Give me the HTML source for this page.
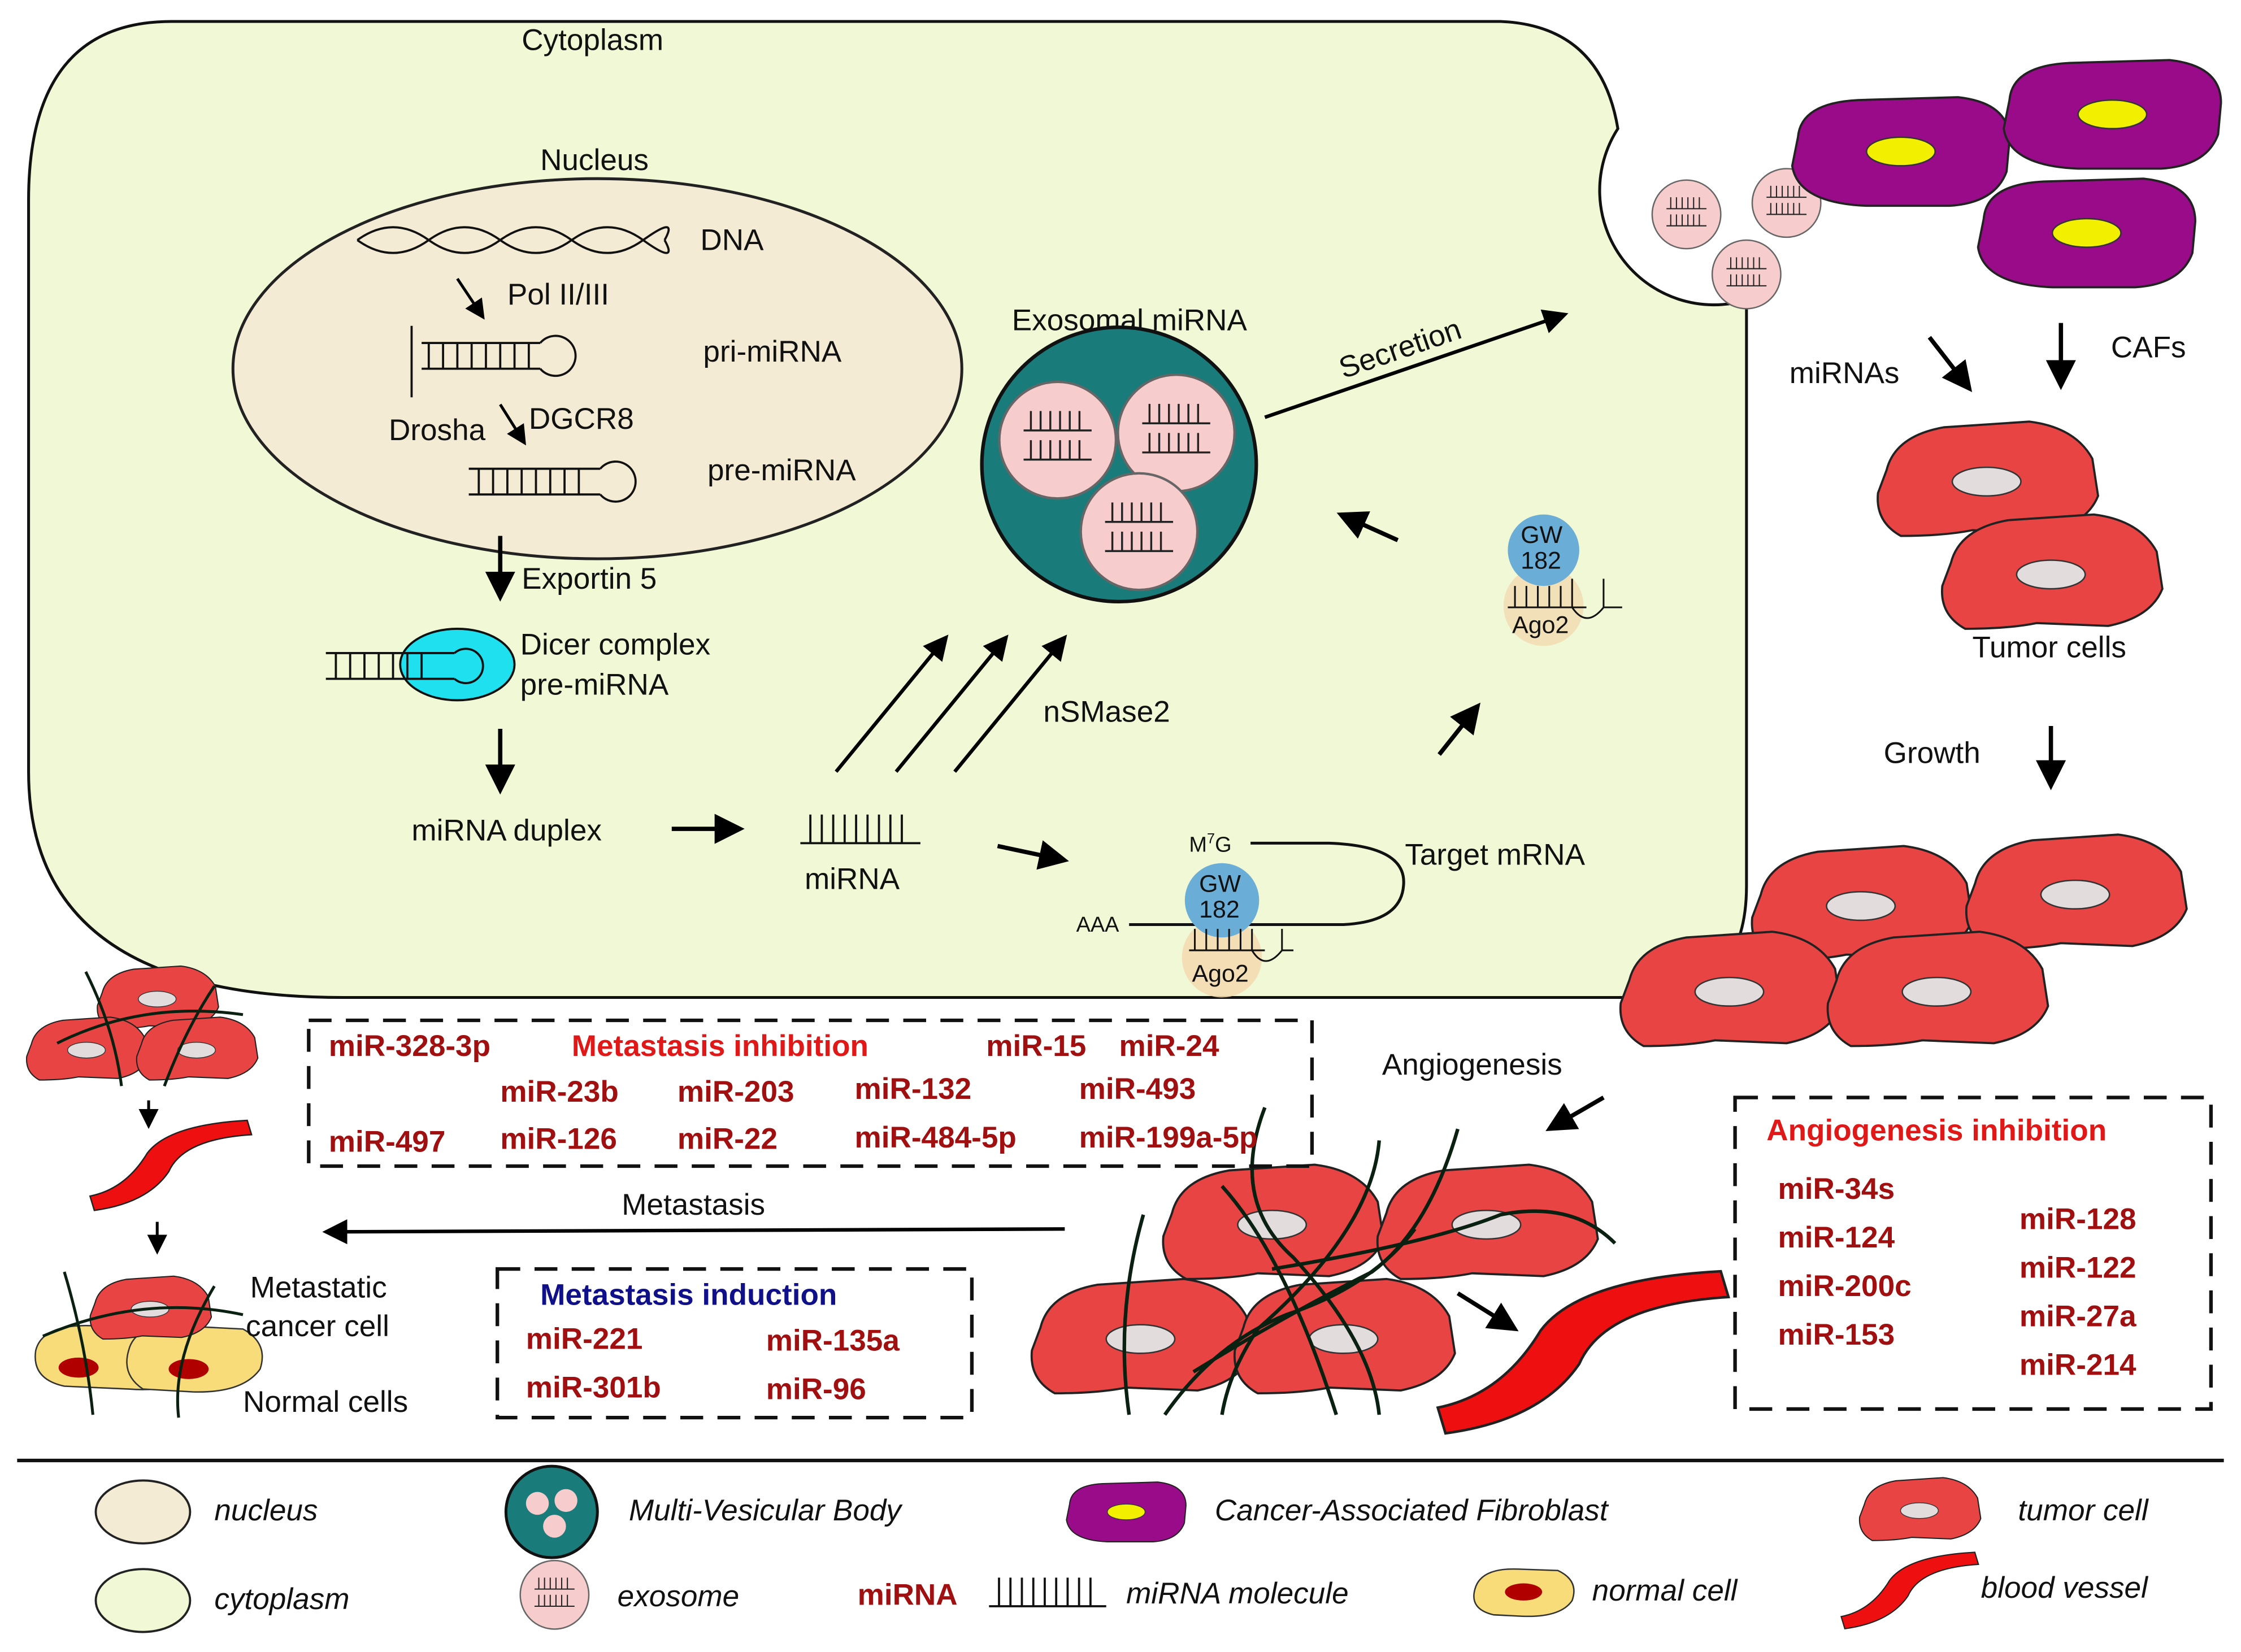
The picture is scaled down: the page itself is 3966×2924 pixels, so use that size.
<!DOCTYPE html>
<html><head><meta charset="utf-8"><style>
html,body{margin:0;padding:0;background:#fff}
svg{display:block}
text{font-family:"Liberation Sans",sans-serif}
.t{font-size:21px;fill:#111}
.r{font-size:21px;font-weight:bold;fill:#a01010}
.i{font-size:21px;font-style:italic;fill:#111}
</style></head><body>
<svg width="3966" height="2924" viewBox="0 0 1568 1156" xmlns="http://www.w3.org/2000/svg">
<defs>
<marker id="ah" markerWidth="8" markerHeight="8" refX="6" refY="4" orient="auto" markerUnits="strokeWidth"><path d="M0,0.5 L7,4 L0,7.5 Z" fill="#000"/></marker>
<g id="tc"><path d="M-70,-6 Q-64,-30 -30,-36 L30,-40 Q62,-36 74,-14 L78,12 Q70,32 40,38 L-10,36 Q-30,40 -60,40 Q-78,30 -76,10 Z" fill="#e84444" stroke="#222" stroke-width="1.5"/><ellipse cx="0" cy="2" rx="24" ry="10" fill="#e3dcdc" stroke="#333" stroke-width="1"/></g>
<g id="caf"><path d="M-72,-10 Q-70,-34 -30,-36 L40,-38 Q76,-34 76,-8 L74,14 Q66,36 34,38 L-24,38 Q-72,36 -76,10 Z" fill="#9a0b8a" stroke="#222" stroke-width="1.5"/><ellipse cx="0" cy="0" rx="24" ry="10" fill="#f3ef00" stroke="#333"/></g>
<g id="exo"><circle r="24" fill="#f6cccc" stroke="#666" stroke-width="1"/><path d="M-14,-4 H14 M-14,8 H14 M-11,-12 V-4 M-7,-12 V-4 M-3,-12 V-4 M1,-12 V-4 M5,-12 V-4 M9,-12 V-4 M-11,0 V8 M-7,0 V8 M-3,0 V8 M1,0 V8 M5,0 V8 M9,0 V8" stroke="#222" stroke-width="0.8" fill="none"/></g>
<g id="bv"><path d="M-55,25 Q-30,20 -15,-5 Q0,-25 55,-28 L58,-18 Q10,-15 0,8 Q-15,30 -52,35 Z" fill="#ee1010" stroke="#222" stroke-width="1"/></g>
</defs>

<path d="M120,15 H1050 Q1120,18 1132,90 A80,80 0 0 0 1222,210 V620 Q1222,697 1150,698 H240 Q20,698 20,540 V140 Q20,15 120,15 Z" fill="#f0f8d6" stroke="#111" stroke-width="2"/>
<text class="t" x="365" y="35">Cytoplasm</text>
<ellipse cx="418" cy="258" rx="255" ry="133" fill="#f4ebd4" stroke="#222" stroke-width="2"/>
<text class="t" x="378" y="119">Nucleus</text>
<path d="M250,168 Q275,150 300,168 T350,168 T400,168 T450,168 T465,168" stroke="#111" fill="none" stroke-width="1.5"/>
<path d="M250,168 Q275,186 300,168 T350,168 T400,168 T450,168 T465,168" stroke="#111" fill="none" stroke-width="1.5"/>
<text class="t" x="490" y="175">DNA</text>
<line x1="320" y1="195" x2="338" y2="222" stroke="#000" stroke-width="2" marker-end="url(#ah)"/>
<text class="t" x="355" y="213">Pol II/III</text>
<path d="M288,228 V278 M295,240 H378 M295,258 H378 M300,240 V258 M310,240 V258 M320,240 V258 M330,240 V258 M340,240 V258 M350,240 V258 M360,240 V258 M370,240 V258" stroke="#111" stroke-width="1.5" fill="none"/>
<path d="M378,240 A14,14 0 1 1 378,258" stroke="#111" stroke-width="1.5" fill="none"/>
<text class="t" x="492" y="253">pri-miRNA</text>
<text class="t" x="272" y="308">Drosha</text>
<text class="t" x="370" y="300">DGCR8</text>
<line x1="350" y1="283" x2="367" y2="310" stroke="#000" stroke-width="2" marker-end="url(#ah)"/>
<path d="M328,328 H420 M328,346 H420 M335,328 V346 M345,328 V346 M355,328 V346 M365,328 V346 M375,328 V346 M385,328 V346 M395,328 V346 M405,328 V346" stroke="#111" stroke-width="1.5" fill="none"/>
<path d="M420,328 A14,14 0 1 1 420,346" stroke="#111" stroke-width="1.5" fill="none"/>
<text class="t" x="495" y="336">pre-miRNA</text>
<line x1="350" y1="375" x2="350" y2="418" stroke="#000" stroke-width="3" marker-end="url(#ah)"/>
<text class="t" x="365" y="412">Exportin 5</text>
<ellipse cx="320" cy="465" rx="40" ry="25" fill="#1ee0ee" stroke="#111" stroke-width="1.5"/>
<path d="M228,457 H318 M228,475 H318 M235,457 V475 M245,457 V475 M255,457 V475 M265,457 V475 M275,457 V475 M285,457 V475 M295,457 V475" stroke="#111" stroke-width="1.5" fill="none"/>
<path d="M318,457 A12,12 0 1 1 318,475" stroke="#111" stroke-width="1.5" fill="none"/>
<text class="t" x="364" y="458">Dicer complex</text>
<text class="t" x="364" y="486">pre-miRNA</text>
<line x1="350" y1="510" x2="350" y2="553" stroke="#000" stroke-width="3" marker-end="url(#ah)"/>
<text class="t" x="288" y="588">miRNA duplex</text>
<line x1="470" y1="580" x2="518" y2="580" stroke="#000" stroke-width="3" marker-end="url(#ah)"/>
<path d="M560,590 H644 M567,570 V590 M575,570 V590 M583,570 V590 M591,570 V590 M599,570 V590 M607,570 V590 M615,570 V590 M623,570 V590 M631,570 V590" stroke="#111" stroke-width="1.5" fill="none"/>
<text class="t" x="563" y="622">miRNA</text>
<line x1="698" y1="592" x2="745" y2="602" stroke="#000" stroke-width="3" marker-end="url(#ah)"/>
<text class="t" x="708" y="231">Exosomal miRNA</text>
<circle cx="783" cy="325" r="96" fill="#1a7c7a" stroke="#111" stroke-width="2.5"/>
<g transform="translate(740,308) scale(1.7)"><use href="#exo"/></g>
<g transform="translate(823,303) scale(1.7)"><use href="#exo"/></g>
<g transform="translate(797,372) scale(1.7)"><use href="#exo"/></g>
<line x1="585" y1="540" x2="662" y2="446" stroke="#000" stroke-width="2.5" marker-end="url(#ah)"/>
<line x1="627" y1="540" x2="704" y2="446" stroke="#000" stroke-width="2.5" marker-end="url(#ah)"/>
<line x1="668" y1="540" x2="745" y2="446" stroke="#000" stroke-width="2.5" marker-end="url(#ah)"/>
<text class="t" x="730" y="505">nSMase2</text>
<line x1="885" y1="292" x2="1095" y2="220" stroke="#000" stroke-width="2.5" marker-end="url(#ah)"/>
<text class="t" x="940" y="265" transform="rotate(-19 940 265)">Secretion</text>
<line x1="978" y1="378" x2="938" y2="360" stroke="#000" stroke-width="3" marker-end="url(#ah)"/>
<line x1="1007" y1="528" x2="1034" y2="494" stroke="#000" stroke-width="3" marker-end="url(#ah)"/>
<circle cx="1080" cy="424" r="28" fill="#f3d9b0" opacity="0.8"/>
<circle cx="1080" cy="385" r="25" fill="#6aaed8"/>
<text class="t" x="1064" y="380" style="font-size:17px">GW</text>
<text class="t" x="1064" y="398" style="font-size:17px">182</text>
<path d="M1055,425 H1110 M1060,410 V425 M1068,410 V425 M1076,410 V425 M1084,410 V425 M1092,410 V425 M1100,405 V425 Q1110,440 1122,425 V405 M1122,425 H1135" stroke="#111" stroke-width="1.2" fill="none"/>
<text class="t" x="1058" y="443" style="font-size:17px">Ago2</text>
<text class="t" x="832" y="596" style="font-size:15px">M<tspan dy="-6" font-size="10">7</tspan><tspan dy="6">G</tspan></text>
<path d="M875,590 H930 Q985,592 982,620 Q980,645 940,647 H790" stroke="#111" stroke-width="2" fill="none"/>
<text class="t" x="753" y="652" style="font-size:15px">AAA</text>
<text class="t" x="983" y="605">Target mRNA</text>
<circle cx="855" cy="670" r="28" fill="#f3d9b0" opacity="0.85"/>
<circle cx="855" cy="630" r="26" fill="#6aaed8"/>
<text class="t" x="839" y="624" style="font-size:17px">GW</text>
<text class="t" x="839" y="642" style="font-size:17px">182</text>
<path d="M832,665 H885 M836,650 V665 M844,650 V665 M852,650 V665 M860,650 V665 M868,650 V665 M876,650 V665 Q885,680 897,665 V650 M897,665 H905" stroke="#111" stroke-width="1.2" fill="none"/>
<text class="t" x="834" y="687" style="font-size:17px">Ago2</text>
<use href="#exo" x="1180" y="150"/><use href="#exo" x="1250" y="142"/><use href="#exo" x="1222" y="192"/>
<use href="#caf" x="1330" y="106"/><use href="#caf" x="1478" y="80"/><use href="#caf" x="1460" y="163"/>
<line x1="1350" y1="236" x2="1378" y2="272" stroke="#000" stroke-width="3" marker-end="url(#ah)"/>
<text class="t" x="1252" y="268">miRNAs</text>
<line x1="1442" y1="226" x2="1442" y2="270" stroke="#000" stroke-width="3" marker-end="url(#ah)"/>
<text class="t" x="1477" y="250">CAFs</text>
<use href="#tc" x="1390" y="335"/><use href="#tc" x="1435" y="400"/>
<text class="t" x="1380" y="460">Tumor cells</text>
<text class="t" x="1318" y="534">Growth</text>
<line x1="1435" y1="508" x2="1435" y2="550" stroke="#000" stroke-width="3" marker-end="url(#ah)"/>
<use href="#tc" x="1302" y="632"/><use href="#tc" x="1452" y="624"/><use href="#tc" x="1210" y="692"/><use href="#tc" x="1355" y="692"/>
<text class="t" x="967" y="752">Angiogenesis</text>
<line x1="1122" y1="768" x2="1084" y2="790" stroke="#000" stroke-width="3" marker-end="url(#ah)"/>
<use href="#tc" x="890" y="855"/><use href="#tc" x="1040" y="855"/><use href="#tc" x="798" y="935"/><use href="#tc" x="940" y="935"/>
<g stroke="#0a2010" stroke-width="2.5" fill="none">
<path d="M885,775 Q860,840 905,880 Q960,940 965,990"/>
<path d="M965,798 Q960,860 880,930 Q860,960 855,990"/>
<path d="M1020,790 Q1000,860 960,890 Q900,920 835,960"/>
<path d="M855,830 Q900,880 935,990"/>
<path d="M990,860 Q960,900 900,920 Q850,940 815,990"/>
<path d="M890,888 Q1000,870 1050,850 Q1100,840 1130,870"/>
<path d="M800,850 Q780,920 790,990"/>
</g>
<line x1="1020" y1="905" x2="1060" y2="930" stroke="#000" stroke-width="3" marker-end="url(#ah)"/>
<g transform="translate(1105,940) scale(1.8)"><use href="#bv"/></g>
<path d="M745,860 L228,862" stroke="#000" stroke-width="2.5" marker-end="url(#ah)"/>
<text class="t" x="435" y="850">Metastasis</text>
<g transform="translate(110,720) scale(0.55)"><use href="#tc" x="0" y="-40"/><use href="#tc" x="-90" y="25"/><use href="#tc" x="50" y="25"/></g>
<g stroke="#0a2010" stroke-width="2" fill="none"><path d="M60,680 Q80,720 85,760"/><path d="M150,690 Q130,720 115,760"/><path d="M40,730 Q100,700 170,710"/></g>
<line x1="104" y1="770" x2="104" y2="788" stroke="#000" stroke-width="2" marker-end="url(#ah)"/>
<g transform="translate(118,812) scale(1.0)"><use href="#bv"/></g>
<line x1="110" y1="855" x2="110" y2="876" stroke="#000" stroke-width="2" marker-end="url(#ah)"/>
<path d="M25,945 Q30,925 70,928 L125,928 Q150,935 145,955 Q130,975 90,972 L45,970 Q22,965 25,945 Z" fill="#f8dc7a" stroke="#333"/>
<ellipse cx="55" cy="957" rx="14" ry="7" fill="#b00000"/>
<path d="M90,945 Q95,925 130,928 L170,930 Q188,940 182,958 Q170,975 135,974 L100,972 Q85,962 90,945 Z" fill="#f8dc7a" stroke="#333"/>
<ellipse cx="132" cy="958" rx="14" ry="7" fill="#b00000"/>
<g transform="translate(105,915) scale(0.55)"><use href="#tc"/></g>
<g stroke="#0a2010" stroke-width="2" fill="none"><path d="M45,890 Q60,940 65,990"/><path d="M150,900 Q120,950 125,992"/><path d="M30,935 Q100,905 170,920"/></g>
<text class="t" x="175" y="908">Metastatic</text>
<text class="t" x="172" y="935">cancer cell</text>
<text class="t" x="170" y="988">Normal cells</text>
<rect x="216" y="714" width="702" height="102" fill="none" stroke="#111" stroke-width="2.5" stroke-dasharray="16,10"/>
<text class="r" x="230" y="739">miR-328-3p</text>
<text class="r" x="400" y="739" style="fill:#e01818">Metastasis inhibition</text>
<text class="r" x="690" y="739">miR-15</text><text class="r" x="783" y="739">miR-24</text>
<text class="r" x="350" y="771">miR-23b</text><text class="r" x="474" y="771">miR-203</text><text class="r" x="598" y="769">miR-132</text><text class="r" x="755" y="769">miR-493</text>
<text class="r" x="230" y="806">miR-497</text><text class="r" x="350" y="804">miR-126</text><text class="r" x="474" y="804">miR-22</text><text class="r" x="598" y="803">miR-484-5p</text><text class="r" x="755" y="803">miR-199a-5p</text>
<rect x="348" y="888" width="332" height="104" fill="none" stroke="#111" stroke-width="2.5" stroke-dasharray="16,10"/>
<text class="r" x="378" y="913" style="fill:#10108a">Metastasis induction</text>
<text class="r" x="368" y="944">miR-221</text><text class="r" x="536" y="945">miR-135a</text>
<text class="r" x="368" y="978">miR-301b</text><text class="r" x="536" y="979">miR-96</text>
<rect x="1214" y="768" width="333" height="218" fill="none" stroke="#111" stroke-width="2.5" stroke-dasharray="16,10"/>
<text class="r" x="1236" y="798" style="fill:#e01818">Angiogenesis inhibition</text>
<text class="r" x="1244" y="839">miR-34s</text><text class="r" x="1244" y="873">miR-124</text><text class="r" x="1244" y="907">miR-200c</text><text class="r" x="1244" y="941">miR-153</text>
<text class="r" x="1413" y="860">miR-128</text><text class="r" x="1413" y="894">miR-122</text><text class="r" x="1413" y="928">miR-27a</text><text class="r" x="1413" y="962">miR-214</text>
<line x1="12" y1="1022" x2="1556" y2="1022" stroke="#111" stroke-width="2.5"/>
<ellipse cx="100" cy="1058" rx="33" ry="22" fill="#f4ebd4" stroke="#222" stroke-width="1.5"/>
<text class="i" x="150" y="1064">nucleus</text>
<ellipse cx="100" cy="1120" rx="33" ry="22" fill="#f0f8d6" stroke="#222" stroke-width="1.5"/>
<text class="i" x="150" y="1126">cytoplasm</text>
<circle cx="386" cy="1058" r="32" fill="#1a7c7a" stroke="#111" stroke-width="2"/>
<circle cx="376" cy="1052" r="8" fill="#f6cccc"/><circle cx="396" cy="1050" r="8" fill="#f6cccc"/><circle cx="388" cy="1068" r="8" fill="#f6cccc"/>
<text class="i" x="440" y="1064">Multi-Vesicular Body</text>
<use href="#exo" x="388" y="1116"/>
<text class="i" x="432" y="1124">exosome</text>
<g transform="translate(788,1058) scale(0.55)"><use href="#caf"/></g>
<text class="i" x="850" y="1064">Cancer-Associated Fibroblast</text>
<text class="r" x="600" y="1123">miRNA</text>
<path d="M692,1124 H774 M699,1104 V1124 M707,1104 V1124 M715,1104 V1124 M723,1104 V1124 M731,1104 V1124 M739,1104 V1124 M747,1104 V1124 M755,1104 V1124 M763,1104 V1124" stroke="#111" stroke-width="1.5" fill="none"/>
<text class="i" x="788" y="1122">miRNA molecule</text>
<path d="M1032,1112 Q1036,1097 1062,1098 L1090,1099 Q1105,1106 1100,1120 Q1092,1132 1065,1131 L1045,1130 Q1028,1126 1032,1112 Z" fill="#f8dc7a" stroke="#333"/>
<ellipse cx="1066" cy="1114" rx="13" ry="6" fill="#b00000"/>
<text class="i" x="1114" y="1120">normal cell</text>
<g transform="translate(1343,1056) scale(0.55)"><use href="#tc"/></g>
<text class="i" x="1412" y="1064">tumor cell</text>
<g transform="translate(1335,1110) scale(0.85)"><use href="#bv"/></g>
<text class="i" x="1386" y="1118">blood vessel</text>
</svg>
</body></html>
